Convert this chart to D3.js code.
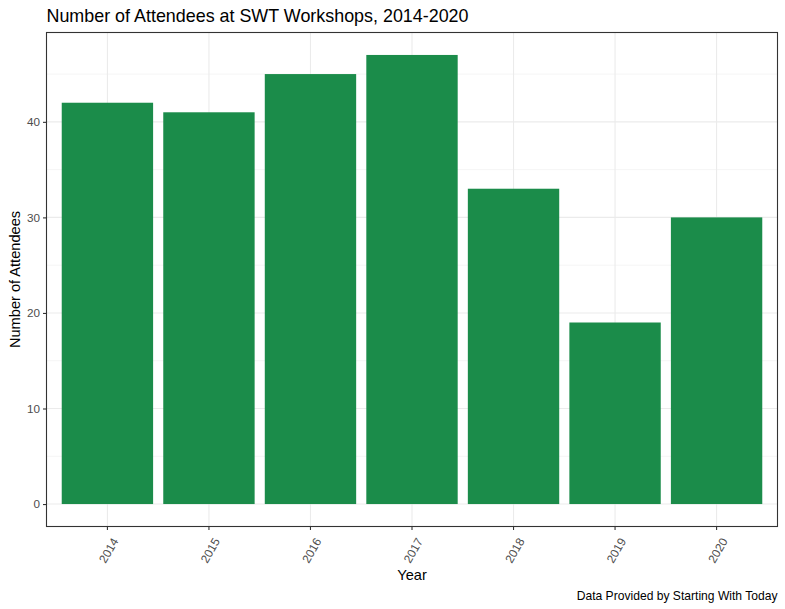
<!DOCTYPE html>
<html><head><meta charset="utf-8">
<script src="https://cdn.jsdelivr.net/npm/d3@7"></script>
<style>body{margin:0;background:#fff;} text{font-family:Arial,"Liberation Sans",sans-serif;}</style>
</head><body>
<svg id="c" width="785" height="609"></svg>
<script>
const years = ["2014","2015","2016","2017","2018","2019","2020"];
const attendees = [42, 41, 45, 47, 33, 19, 30];
const yTicks = [0, 10, 20, 30, 40];
const yMinor = [5, 15, 25, 35, 45];
const titleText = "Number of Attendees at SWT Workshops, 2014-2020";
const xTitle = "Year", yTitle = "Number of Attendees";
const caption = "Data Provided by Starting With Today";

const svg = d3.select("#c");
const L = 46.5, R = 777.5, T = 32.5, B = 526.5;
const n = years.length;
const xc = d3.scaleLinear().domain([0.4, n + 0.6]).range([L, R]);
const x = d3.scaleBand().domain(years).range([xc(0.5), xc(n + 0.5)]).paddingInner(0.1).paddingOuter(0.05);
const ymax = d3.max(attendees);
const y = d3.scaleLinear().domain([-0.05 * ymax, ymax * 1.05]).range([B, T]);

const g = svg.append("g");
g.selectAll(".minor").data(yMinor).join("line")
  .attr("x1", L).attr("x2", R).attr("y1", d => y(d)).attr("y2", d => y(d))
  .attr("stroke", "#ebebeb").attr("stroke-width", 0.55);
g.selectAll(".major").data(yTicks).join("line")
  .attr("x1", L).attr("x2", R).attr("y1", d => y(d)).attr("y2", d => y(d))
  .attr("stroke", "#ebebeb").attr("stroke-width", 1.1);
g.selectAll(".vmajor").data(years).join("line")
  .attr("x1", d => x(d) + x.bandwidth()/2).attr("x2", d => x(d) + x.bandwidth()/2)
  .attr("y1", T).attr("y2", B).attr("stroke", "#ebebeb").attr("stroke-width", 1.1);

g.selectAll(".bar").data(years).join("rect")
  .attr("x", d => x(d)).attr("width", x.bandwidth())
  .attr("y", (d, i) => y(attendees[i])).attr("height", (d, i) => y(0) - y(attendees[i]))
  .attr("fill", "#1b8c4a");

g.append("rect").attr("x", L).attr("y", T).attr("width", R - L).attr("height", B - T)
  .attr("fill", "none").attr("stroke", "#333").attr("stroke-width", 1.1);

// y axis
const ya = d3.axisLeft(y).tickValues(yTicks).tickSize(3.5).tickPadding(3);
const yg = svg.append("g").attr("transform", `translate(${L},0)`).call(ya);
yg.select(".domain").remove();
yg.selectAll(".tick line").attr("stroke", "#333").attr("stroke-width", 1.1);
yg.selectAll(".tick text").attr("fill", "#4d4d4d").attr("font-size", "11.7px").attr("font-family", "Arial, 'Liberation Sans', sans-serif");

// x axis
const xa = d3.axisBottom(x).tickSize(3.5).tickFormat(d => d);
const xg = svg.append("g").attr("transform", `translate(0,${B})`).call(xa);
xg.select(".domain").remove();
xg.selectAll(".tick line").attr("stroke", "#333").attr("stroke-width", 1.1);
xg.selectAll(".tick text")
  .attr("fill", "#4d4d4d").attr("font-size", "11.9px").attr("font-family", "Arial, 'Liberation Sans', sans-serif")
  .attr("text-anchor", "end").attr("y", 0).attr("dy", "0.35em")
  .attr("transform", "translate(7.8,12.5) rotate(-60)");

svg.append("text").attr("x", L).attr("y", 21.5).attr("font-size", "17.9px").attr("fill", "#000").text(titleText);
svg.append("text").attr("x", (L + R) / 2).attr("y", 580).attr("text-anchor", "middle").attr("font-size", "14.6px").text(xTitle);
svg.append("text").attr("transform", `translate(20,${(T + B) / 2}) rotate(-90)`).attr("text-anchor", "middle").attr("font-size", "14.6px").text(yTitle);
svg.append("text").attr("x", R).attr("y", 600).attr("text-anchor", "end").attr("font-size", "12.1px").text(caption);
</script>
</body></html>
